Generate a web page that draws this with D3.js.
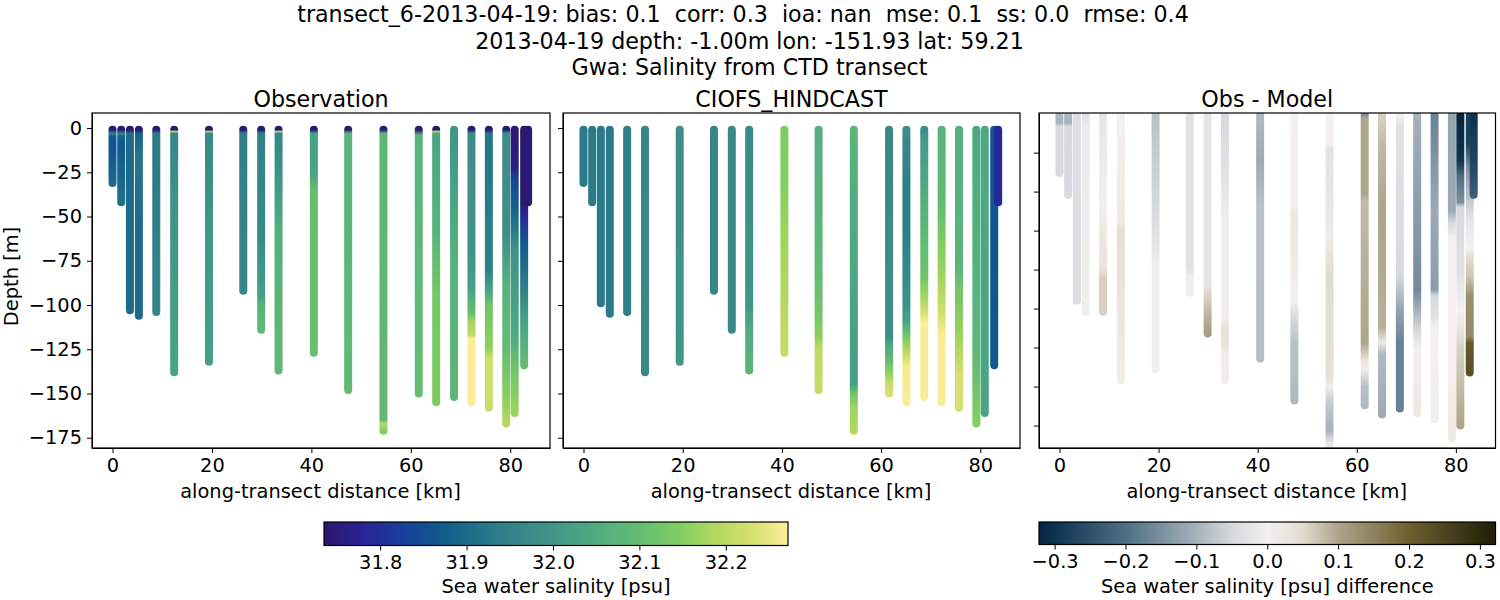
<!DOCTYPE html>
<html>
<head>
<meta charset="utf-8">
<script src="https://cdn.jsdelivr.net/npm/d3@7"></script>
<style>
  body { margin: 0; background: #fff; }
  text { font-family: "DejaVu Sans", sans-serif; fill: #000; }
  .tick text { font-size: 19.4px; }
  .tick line, .domain { stroke: #000; }
</style>
</head>
<body>
<div id="vis"></div>
<script>
// Along-transect distance of each cast [km]
const stationKm = [0, 1.75, 3.5, 5.3, 8.8, 12.4, 19.4, 26.3, 29.9, 33.4, 40.5, 47.4, 54.5, 61.6, 65.1, 68.7, 72.2, 75.7, 79.2, 80.9, 82.8, 83.6];

// Each cast is a list of [depth, value]
const obsCasts = [
  [[1, 31.74], [3, 31.95], [5, 31.86], [12, 31.86], [31, 31.9]],
  [[1, 31.74], [3, 31.95], [5, 31.88], [10, 31.87], [42, 31.91]],
  [[1, 31.74], [3, 31.9], [103, 31.9]],
  [[1, 31.74], [3, 31.88], [15, 31.92], [60, 31.9], [106, 31.9]],
  [[1, 31.74], [3, 31.93], [104, 31.96]],
  [[1, 31.74], [2, 32.2], [3, 31.96], [40, 31.99], [138, 32.03]],
  [[1, 31.74], [2, 32.2], [3, 31.97], [60, 32.0], [132, 32.02]],
  [[1, 31.74], [3, 31.94], [92, 31.96]],
  [[1, 31.74], [3, 31.95], [60, 31.97], [95, 32.02], [100, 32.07], [114, 32.09]],
  [[1, 31.74], [2, 32.2], [3, 31.96], [30, 32.0], [60, 32.06], [137, 32.09]],
  [[1, 31.74], [3, 32.02], [25, 32.03], [35, 32.1], [127, 32.11]],
  [[1, 31.74], [3, 32.07], [148, 32.09]],
  [[1, 31.74], [3, 32.08], [130, 32.09], [165, 32.09], [167, 32.19], [171, 32.15]],
  [[1, 31.74], [4, 32.07], [150, 32.1]],
  [[1, 31.74], [2, 32.2], [3, 32.03], [60, 32.07], [95, 32.13], [155, 32.14]],
  [[1, 32.0], [30, 32.02], [80, 32.07], [152, 32.08]],
  [[1, 31.74], [3, 31.98], [70, 31.99], [90, 32.02], [105, 32.11], [110, 32.18], [117, 32.2], [119, 32.27], [155, 32.27]],
  [[1, 31.74], [3, 31.92], [80, 31.94], [92, 32.03], [100, 32.12], [125, 32.16], [130, 32.22], [150, 32.22], [158, 32.21]],
  [[1, 31.74], [3, 31.98], [60, 31.98], [90, 32.07], [125, 32.1], [150, 32.15], [167, 32.19]],
  [[1, 31.74], [22, 31.76], [30, 31.84], [45, 31.88], [70, 31.99], [100, 32.02], [120, 32.05], [135, 32.12], [161, 32.17]],
  [[1, 31.74], [42, 31.74], [48, 31.78], [65, 31.87], [90, 31.94], [110, 32.03], [125, 32.07], [134, 32.1]],
  [[1, 31.74], [42, 31.74]],
];

const modelCasts = [
  [[1, 31.93], [31, 31.93]],
  [[1, 31.93], [42, 31.93]],
  [[1, 31.93], [99, 31.93]],
  [[1, 31.93], [105, 31.93]],
  [[1, 31.94], [104, 31.94]],
  [[1, 31.96], [138, 31.97]],
  [[1, 31.98], [132, 32.0]],
  [[1, 31.96], [92, 31.96]],
  [[1, 31.97], [114, 31.97]],
  [[1, 31.97], [100, 32.0], [115, 32.05], [137, 32.08]],
  [[1, 32.14], [30, 32.15], [60, 32.17], [127, 32.21]],
  [[1, 32.06], [60, 32.08], [85, 32.1], [107, 32.13], [118, 32.16], [125, 32.2], [148, 32.21]],
  [[1, 32.08], [40, 32.05], [130, 32.02], [145, 32.02], [150, 32.12], [158, 32.17], [171, 32.19]],
  [[1, 31.97], [118, 31.98], [124, 32.05], [131, 32.09], [137, 32.15], [144, 32.21], [150, 32.23]],
  [[1, 31.98], [30, 31.94], [60, 31.94], [100, 31.99], [110, 32.03], [118, 32.13], [124, 32.18], [131, 32.24], [135, 32.26], [155, 32.27]],
  [[1, 31.98], [8, 32.01], [50, 32.07], [84, 32.12], [91, 32.16], [103, 32.22], [110, 32.27], [152, 32.27]],
  [[1, 32.07], [40, 32.09], [69, 32.15], [87, 32.18], [103, 32.22], [118, 32.27], [155, 32.27]],
  [[1, 32.06], [80, 32.08], [90, 32.12], [112, 32.16], [129, 32.2], [141, 32.23], [158, 32.23]],
  [[1, 32.04], [100, 32.07], [130, 32.09], [167, 32.15]],
  [[1, 32.04], [161, 32.03]],
  [[1, 31.86], [134, 31.87]],
  [[1, 31.79], [42, 31.79]],
];

// Difference panel has its own depth scale
const diffCasts = [
  [[1, -0.09], [6, -0.1], [8, -0.05], [38, -0.045]],
  [[1, -0.09], [6, -0.1], [8, -0.05], [52, -0.045]],
  [[1, -0.04], [120, -0.04]],
  [[1, -0.03], [8, -0.01], [127, -0.005]],
  [[1, -0.02], [60, 0.0], [75, 0.02], [100, 0.03], [105, 0.06], [127, 0.06]],
  [[1, 0.0], [45, 0.01], [70, 0.02], [75, 0.04], [100, 0.035], [130, 0.025], [171, 0.01]],
  [[1, -0.08], [40, -0.06], [90, -0.02], [95, -0.005], [164, -0.003]],
  [[1, -0.03], [100, -0.03], [105, -0.005], [115, -0.003]],
  [[1, -0.025], [110, -0.025], [118, 0.06], [128, 0.085], [141, 0.11]],
  [[1, -0.05], [40, -0.03], [65, -0.005], [130, 0.005], [140, 0.04], [148, 0.03], [155, 0.01], [171, 0.005]],
  [[1, -0.09], [30, -0.11], [60, -0.08], [157, -0.085]],
  [[1, 0.0], [60, 0.005], [65, 0.02], [100, 0.01], [120, 0.0], [126, -0.03], [136, -0.06], [147, -0.08], [184, -0.09]],
  [[1, 0.0], [19, 0.0], [23, -0.03], [83, -0.01], [89, 0.03], [104, 0.05], [169, 0.04], [175, 0.005], [186, -0.07], [203, -0.1], [211, -0.02], [216, -0.02]],
  [[1, -0.15], [3, 0.1], [51, 0.1], [56, 0.08], [147, 0.1], [158, 0.03], [164, -0.01], [175, -0.08], [187, -0.09]],
  [[1, 0.06], [19, 0.08], [62, 0.1], [137, 0.09], [147, -0.01], [154, -0.09], [193, -0.11]],
  [[1, 0.0], [8, -0.03], [104, -0.05], [126, -0.12], [147, -0.17], [189, -0.17]],
  [[1, -0.1], [57, -0.13], [83, -0.14], [113, -0.16], [126, -0.1], [139, -0.05], [151, 0.0], [169, 0.01], [192, 0.02]],
  [[1, -0.17], [62, -0.11], [113, -0.13], [117, -0.05], [130, -0.03], [137, 0.0], [196, -0.003]],
  [[1, -0.12], [62, -0.11], [70, -0.05], [79, 0.0], [169, 0.0], [208, 0.02]],
  [[1, -0.32], [30, -0.3], [40, -0.2], [57, -0.15], [60, -0.05], [104, -0.03], [126, 0.0], [139, 0.03], [151, 0.06], [200, 0.1]],
  [[1, -0.28], [19, -0.28], [34, -0.15], [62, -0.05], [70, -0.02], [87, 0.0], [92, 0.05], [104, 0.07], [117, 0.13], [143, 0.14], [147, 0.21], [166, 0.23]],
  [[1, -0.3], [30, -0.27], [52, -0.23]],
];

// Colormaps
const salinityStops = [31.735, 31.78, 31.83, 31.87, 31.9, 31.94, 31.98, 32.02, 32.07, 32.11, 32.15, 32.19, 32.23, 32.272];
const salinityColors = ["#2a186c", "#2a2396", "#17429b", "#0f5a8c", "#1c6b8a", "#2f7f88", "#3d8d88", "#46a086", "#58b47c", "#6abe6f", "#84cf60", "#b5d860", "#d6e070", "#fdee99"];
const diffStops = [-0.322, -0.3, -0.2, -0.1, -0.05, 0, 0.05, 0.1, 0.2, 0.3, 0.322];
const diffColors = ["#07243f", "#0d3350", "#4e6e85", "#a6b1ba", "#d6d9dd", "#f3f0ef", "#e2dcd0", "#aea48a", "#6f5f2f", "#2b2a0e", "#1e1e08"];

const salinityTicks = [31.8, 31.9, 32.0, 32.1, 32.2];
const diffTicks = [-0.3, -0.2, -0.1, 0, 0.1, 0.2, 0.3];
const kmTicks = [0, 20, 40, 60, 80];
const depthTicks = [0, -25, -50, -75, -100, -125, -150, -175];
const diffDepthTicks = [-25, -50, -75, -100, -125, -150, -175, -200];

const titleLines = [
  "transect_6-2013-04-19: bias: 0.1  corr: 0.3  ioa: nan  mse: 0.1  ss: 0.0  rmse: 0.4",
  "2013-04-19 depth: -1.00m lon: -151.93 lat: 59.21",
  "Gwa: Salinity from CTD transect",
];

const svg = d3.select("#vis").append("svg").attr("width", 1500).attr("height", 600);
const defs = svg.append("defs");

const salinityColor = d3.scaleLinear().domain(salinityStops).range(salinityColors).clamp(true);
const diffColor = d3.scaleLinear().domain(diffStops).range(diffColors).clamp(true);

// first line sits a bit left of the other two in the original
svg.selectAll(".suptitle")
  .data(titleLines)
  .enter()
  .append("text")
  .attr("class", "suptitle")
  .attr("x", (d, i) => (i === 0 ? 743 : 749.5))
  .attr("y", (d, i) => 22 + i * 26.5)
  .attr("text-anchor", "middle")
  .style("font-size", "22.2px")
  .style("white-space", "pre")
  .text((d) => d);

function drawPanel(id, opts) {
  const { left, right, title, casts, color, yDomain, yTicks, yLabels } = opts;
  const top = 113, bottom = 448;
  const x = d3.scaleLinear().domain([-4.13, 88]).range([left, right]);
  const y = d3.scaleLinear().domain(yDomain).range([top, bottom]);
  const g = svg.append("g");

  defs.append("clipPath").attr("id", `clip-${id}`)
    .append("rect").attr("x", left).attr("y", top).attr("width", right - left).attr("height", bottom - top);

  const marks = g.append("g").attr("clip-path", `url(#clip-${id})`);
  casts.forEach((cast, i) => {
    const first = cast[0][0], last = cast[cast.length - 1][0];
    const grad = defs.append("linearGradient")
      .attr("id", `${id}-cast-${i}`)
      .attr("gradientUnits", "userSpaceOnUse")
      .attr("x1", 0).attr("x2", 0)
      .attr("y1", y(-first)).attr("y2", y(-last));
    grad.selectAll("stop").data(cast).enter().append("stop")
      .attr("offset", (d) => (d[0] - first) / (last - first))
      .attr("stop-color", (d) => color(d[1]));
    marks.append("line")
      .attr("x1", x(stationKm[i])).attr("x2", x(stationKm[i]))
      .attr("y1", y(-first)).attr("y2", y(-last))
      .attr("stroke", `url(#${id}-cast-${i})`)
      .attr("stroke-width", 8)
      .attr("stroke-linecap", "round");
  });

  g.append("g")
    .attr("transform", `translate(0,${bottom})`)
    .call(d3.axisBottom(x).tickValues(kmTicks).tickSize(5).tickSizeOuter(0).tickPadding(5).tickFormat(d3.format("d")));
  const yAxis = d3.axisLeft(y).tickValues(yTicks).tickSize(5).tickSizeOuter(0).tickPadding(5);
  yAxis.tickFormat(yLabels ? d3.format("d") : "");
  g.append("g").attr("transform", `translate(${left},0)`).call(yAxis);

  g.append("rect")
    .attr("x", left).attr("y", top).attr("width", right - left).attr("height", bottom - top)
    .attr("fill", "none").attr("stroke", "#000").attr("stroke-width", 1.2);

  g.append("text")
    .attr("x", (left + right) / 2).attr("y", 107)
    .attr("text-anchor", "middle")
    .style("font-size", "22.2px")
    .text(title);

  g.append("text")
    .attr("x", (left + right) / 2 - 0.5).attr("y", 498)
    .attr("text-anchor", "middle")
    .style("font-size", "19.4px")
    .text("along-transect distance [km]");

  if (yLabels) {
    g.append("text")
      .attr("transform", "rotate(-90)")
      .attr("x", -(top + bottom) / 2 + 4).attr("y", 18)
      .attr("text-anchor", "middle")
      .style("font-size", "19.4px")
      .text("Depth [m]");
  }
}

function drawColorbar(id, opts) {
  const { left, right, top, bottom, stops, color, ticks, format, label } = opts;
  const x = d3.scaleLinear().domain([stops[0], stops[stops.length - 1]]).range([left, right]);
  const grad = defs.append("linearGradient").attr("id", id);
  grad.selectAll("stop").data(stops).enter().append("stop")
    .attr("offset", (d) => (d - stops[0]) / (stops[stops.length - 1] - stops[0]))
    .attr("stop-color", (d) => color(d));
  svg.append("rect")
    .attr("x", left).attr("y", top).attr("width", right - left).attr("height", bottom - top)
    .attr("fill", `url(#${id})`).attr("stroke", "#000").attr("stroke-width", 1.2);
  svg.append("g")
    .attr("transform", `translate(0,${bottom})`)
    .call(d3.axisBottom(x).tickValues(ticks).tickSize(5).tickPadding(5).tickFormat(d3.format(format)))
    .call((g) => g.select(".domain").remove());
  svg.append("text")
    .attr("x", (left + right) / 2).attr("y", 593)
    .attr("text-anchor", "middle")
    .style("font-size", "19.4px")
    .text(label);
}

drawPanel("obs", { left: 92, right: 550, title: "Observation", casts: obsCasts, color: salinityColor, yDomain: [8.5, -180.8], yTicks: depthTicks, yLabels: true });
drawPanel("model", { left: 563, right: 1020, title: "CIOFS_HINDCAST", casts: modelCasts, color: salinityColor, yDomain: [8.5, -180.8], yTicks: depthTicks, yLabels: false });
drawPanel("diff", { left: 1039, right: 1495.5, title: "Obs - Model", casts: diffCasts, color: diffColor, yDomain: [0.4, -214.4], yTicks: diffDepthTicks, yLabels: false });

drawColorbar("cb-salinity", { left: 324, right: 788, top: 522, bottom: 545.5, stops: salinityStops, color: salinityColor, ticks: salinityTicks, format: ".1f", label: "Sea water salinity [psu]" });
drawColorbar("cb-diff", { left: 1039, right: 1495.5, top: 522, bottom: 544.5, stops: diffStops, color: diffColor, ticks: diffTicks, format: ".1f", label: "Sea water salinity [psu] difference" });
</script>
</body>
</html>
